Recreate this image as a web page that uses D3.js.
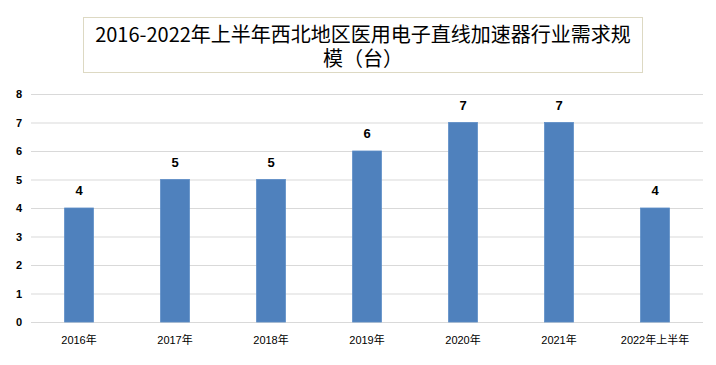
<!DOCTYPE html>
<html><head><meta charset="utf-8">
<script src="https://cdn.jsdelivr.net/npm/d3@7/dist/d3.min.js"></script>
<style>
html,body{margin:0;padding:0;background:#fff;}
svg{display:block;}
</style></head>
<body>
<svg id="chart" width="716" height="365"></svg>
<script>
const categories = ["2016年","2017年","2018年","2019年","2020年","2021年","2022年上半年"];
const values = [4,5,5,6,7,7,4];
const yTicks = [0,1,2,3,4,5,6,7,8];
const titleLines = ["2016-2022年上半年西北地区医用电子直线加速器行业需求规","模（台）"];

const svg = d3.select("#chart");
const W = 716, H = 365;
const plot = {left:31, right:703, top:94, bottom:322};

svg.append("rect").attr("width",W).attr("height",H).attr("fill","#fff");

const x = d3.scaleBand().domain(categories).range([plot.left, plot.right]).paddingInner(0.7).paddingOuter(0.35);
const y = d3.scaleLinear().domain([0,8]).range([plot.bottom, plot.top]);

// gridlines
svg.append("g").selectAll("line").data(yTicks).join("line")
  .attr("x1",plot.left).attr("x2",plot.right)
  .attr("y1",d=>y(d)+0.5).attr("y2",d=>y(d)+0.5)
  .attr("stroke","#d9d9d9").attr("stroke-width",1.2);

// y axis labels
const yAxis = d3.axisLeft(y).tickValues(yTicks).tickSize(0).tickPadding(0);
const gy = svg.append("g").attr("transform",`translate(${22},0)`).call(yAxis);
gy.select(".domain").remove();
gy.selectAll("text").attr("font-family","Liberation Sans, Arial, sans-serif")
  .attr("font-size",11).attr("font-weight","bold").attr("fill","#000");

// x axis labels
const xAxis = d3.axisBottom(x).tickSize(0).tickPadding(0);
const gx = svg.append("g").attr("transform",`translate(0,${plot.bottom+14})`).call(xAxis);
gx.select(".domain").remove();
gx.selectAll("text").attr("font-family","Liberation Sans, 'Noto Sans CJK SC', sans-serif")
  .attr("font-size",11).attr("fill","#000");

// bars
svg.append("g").selectAll("rect").data(values).join("rect")
  .attr("x",(d,i)=>x(categories[i]))
  .attr("y",d=>y(d))
  .attr("width",x.bandwidth())
  .attr("height",d=>y(0)-y(d))
  .attr("fill","#4f81bd")
  .attr("stroke","#5b8cc6").attr("stroke-width",0.8);

// data labels
svg.append("g").selectAll("text").data(values).join("text")
  .attr("x",(d,i)=>x(categories[i])+x.bandwidth()/2)
  .attr("y",d=>y(d)-13)
  .attr("text-anchor","middle")
  .attr("font-family","Liberation Sans, Arial, sans-serif")
  .attr("font-size",13).attr("font-weight","bold").attr("fill","#000")
  .text(d=>d);

// title box
svg.append("rect").attr("x",83.5).attr("y",17.5).attr("width",559).attr("height",55)
  .attr("fill","#fff").attr("stroke","#ddd9c3").attr("stroke-width",1);
const title = svg.append("text")
  .attr("text-anchor","middle")
  .attr("font-family","'Noto Sans CJK SC', sans-serif")
  .attr("font-size",20).attr("fill","#000");
title.selectAll("tspan").data(titleLines).join("tspan")
  .attr("x",363).attr("y",(d,i)=>42+i*24)
  .text(d=>d);
</script>
</body></html>
